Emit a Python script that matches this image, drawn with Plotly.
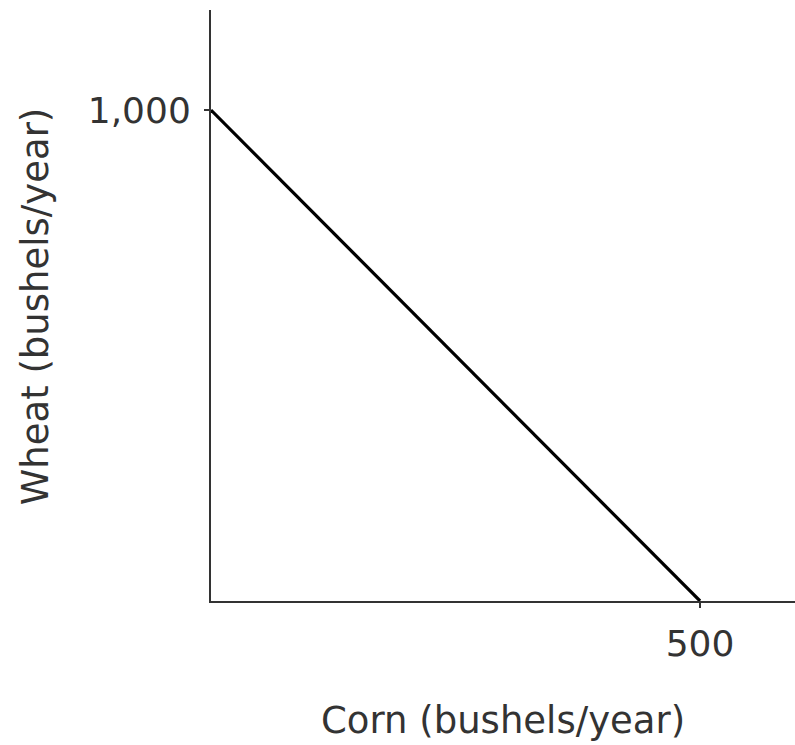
import plotly.graph_objects as go

corn = [0, 500]
wheat = [1000, 0]
x_ticks = [500]
y_ticks = [1000]
x_tick_labels = ["500"]
y_tick_labels = ["1,000"]

W, H = 795, 745
L, R, T, B = 211, 0, 10, 144

fig = go.Figure()
fig.add_trace(go.Scatter(x=corn, y=wheat, mode="lines",
                         line=dict(color="black", width=3.2), hoverinfo="skip"))

tick_font = dict(family="DejaVu Sans", size=36, color="#333333")
title_font = dict(family="DejaVu Sans", size=37, color="#333333")

fig.update_layout(
    width=W, height=H,
    margin=dict(l=L, r=R, t=T, b=B),
    paper_bgcolor="white", plot_bgcolor="white",
    showlegend=False,
    xaxis=dict(range=[0, 597.1], showgrid=False, zeroline=False,
               showline=True, linecolor="#333333", linewidth=2,
               tickvals=x_ticks, ticktext=x_tick_labels,
               ticks="outside", ticklen=5, tickwidth=1.5, tickcolor="#333333",
               tickfont=tick_font, ticklabelstandoff=5),
    yaxis=dict(range=[0, 1203.7], showgrid=False, zeroline=False,
               showline=True, linecolor="#333333", linewidth=2,
               tickvals=y_ticks, ticktext=y_tick_labels,
               ticks="outside", ticklen=5, tickwidth=1.5, tickcolor="#333333",
               tickfont=tick_font, ticklabelstandoff=6),
    annotations=[
        dict(text="Corn (bushels/year)", xref="paper", yref="paper",
             x=0.5, y=-0.203, xanchor="center", yanchor="middle",
             showarrow=False, font=title_font),
        dict(text="Wheat (bushels/year)", xref="paper", yref="paper",
             x=-0.301, y=0.499, xanchor="center", yanchor="middle",
             showarrow=False, font=title_font, textangle=-90),
    ],
)

fig.write_html("out.html", config={"displayModeBar": False},
               post_script="document.body.style.margin='0';document.body.style.overflow='hidden';")
